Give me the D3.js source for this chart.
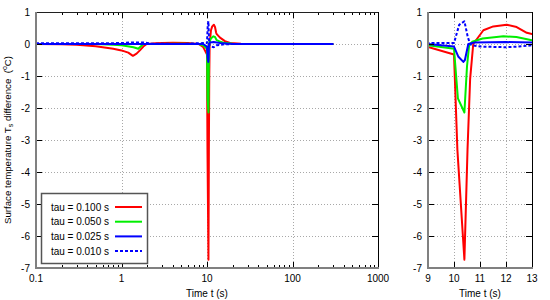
<!DOCTYPE html>
<html><head><meta charset="utf-8">
<script src="https://cdn.jsdelivr.net/npm/d3@7"></script>
<style>
body{margin:0;background:#fff}
text{font-family:"Liberation Sans",Arial,Helvetica,sans-serif;font-size:10px;fill:#000}
</style>
</head><body>
<svg id="chart" width="550" height="300"></svg>
<script>
// ---------- data ----------
const seriesLabels = ["tau = 0.100 s", "tau = 0.050 s", "tau = 0.025 s", "tau = 0.010 s"];

const redT   = [0.1,0.2,0.3,0.5,0.8,1.0,1.2,1.36,1.5,1.64,1.8,1.97,2.5,3,4,6,8,9,10,10.13,10.4,10.52,10.62,10.74,11.13,11.51,12.03,12.41,12.8,13,14.2,16.2,18.6,25,40,100,300];
const redV   = [0,-0.01,-0.02,-0.07,-0.15,-0.2,-0.27,-0.37,-0.3,-0.2,-0.08,0,0.02,0.03,0.04,0.03,0,-0.09,-0.33,-3.3,-6.74,-3.3,-1.1,0,0.43,0.55,0.6,0.53,0.35,0.31,0.2,0.09,0.03,0.01,0,0,0];

const greenT = [0.1,0.5,0.8,1.0,1.38,1.57,1.8,2.5,5,8,9,10,10.15,10.4,10.5,10.58,10.7,11.1,11.9,12.4,13,14,15.5,20,30,300];
const greenV = [0,0,-0.02,-0.04,-0.1,-0.15,0,0,0.01,0,-0.04,-0.15,-1.7,-2.14,-0.7,-0.05,0.07,0.17,0.24,0.22,0.12,0.08,0.04,0.01,0,0];

const blueT  = [0.1,5,9,10,10.17,10.36,10.42,10.55,10.8,12,13,15,20,300];
const blueV  = [0,0,0,-0.08,-0.4,-0.56,-0.5,0,0.05,0.06,0.05,0.02,0,0];

const dashT  = [0.1,0.5,1.0,1.3,1.8,2.2,5,9,10,10.2,10.4,10.53,10.62,10.75,11,12,12.5,13,14,16,20,300];
const dashV  = [0.02,0.02,0.03,0.05,0.05,0.01,0,0.03,0.03,0.6,0.71,0.22,0,-0.05,-0.08,-0.1,-0.08,-0.04,-0.03,-0.01,0,0];

const yTicks      = [1,0,-1,-2,-3,-4,-5,-6,-7];
const xLogTicks   = [0.1,1,10,100,1000];
const xLogLabels  = ["0.1","1","10","100","1000"];
const xZoomTicks  = [9,10,11,12,13];
const xZoomLabels = ["9","10","11","12","13"];
const xLabel = "Time t (s)";

// ---------- styles ----------
const colors = ["#ff0000","#00ee00","#0000ff","#0000ff"];
const dashes = [null,null,null,"3,2"];

const svg = d3.select("#chart");
const series = [[redT,redV],[greenT,greenV],[blueT,blueV],[dashT,dashV]]
  .map((s,i)=>({label:seriesLabels[i], pts:s[0].map((t,j)=>[t,s[1][j]])}));

const yTop = 12, yBot = 268;
const y = d3.scaleLinear().domain([-7,1]).range([yBot, yTop]);

function panel(id, x, majors, labels, minors){
  const g = svg.append("g");
  const [x0,x1] = x.range();
  const defs = svg.append("defs");
  defs.append("clipPath").attr("id","clip"+id).append("rect")
    .attr("x",x0).attr("y",yTop).attr("width",x1-x0).attr("height",yBot-yTop);
  // grid
  const grid = g.append("g").attr("stroke","#a8a8a8").attr("stroke-width",1).attr("stroke-dasharray","1,2");
  yTicks.forEach(v=>{ if(v>-7 && v<1) grid.append("line").attr("x1",x0).attr("x2",x1).attr("y1",Math.round(y(v))+0.5).attr("y2",Math.round(y(v))+0.5); });
  majors.forEach(v=>{ const px=Math.round(x(v))+0.5; if(px>x0+1 && px<x1-1) grid.append("line").attr("x1",px).attr("x2",px).attr("y1",yTop).attr("y2",yBot); });
  // lines
  const line = d3.line().x(d=>x(d[0])).y(d=>y(d[1]));
  const lg = g.append("g").attr("clip-path","url(#clip"+id+")");
  series.forEach((s,i)=>{
    lg.append("path").attr("d",line(s.pts)).attr("fill","none")
      .attr("stroke",colors[i]).attr("stroke-width",2)
      .attr("stroke-linejoin","round")
      .attr("stroke-dasharray",dashes[i]);
  });
  // ticks
  const tk = g.append("g").attr("stroke","#000").attr("stroke-width",1);
  yTicks.forEach(v=>{
    const py=Math.round(y(v))+0.5;
    tk.append("line").attr("x1",x0).attr("x2",x0+6).attr("y1",py).attr("y2",py);
    tk.append("line").attr("x1",x1-6).attr("x2",x1).attr("y1",py).attr("y2",py);
  });
  majors.forEach(v=>{
    const px=Math.round(x(v))+0.5;
    tk.append("line").attr("x1",px).attr("x2",px).attr("y1",yBot).attr("y2",yBot-6);
    tk.append("line").attr("x1",px).attr("x2",px).attr("y1",yTop).attr("y2",yTop+6);
  });
  minors.forEach(v=>{
    const px=Math.round(x(v))+0.5;
    tk.append("line").attr("x1",px).attr("x2",px).attr("y1",yBot).attr("y2",yBot-3);
    tk.append("line").attr("x1",px).attr("x2",px).attr("y1",yTop).attr("y2",yTop+3);
  });
  // border
  g.append("line").attr("x1",x0).attr("x2",x1).attr("y1",yTop+0.5).attr("y2",yTop+0.5).attr("stroke","#202020");
  g.append("line").attr("x1",x1+0.5).attr("x2",x1+0.5).attr("y1",yTop).attr("y2",yBot).attr("stroke","#000");
  g.append("line").attr("x1",x0).attr("x2",x0).attr("y1",yTop).attr("y2",yBot+1).attr("stroke","#808080").attr("stroke-width",2);
  g.append("line").attr("x1",x0-1).attr("x2",x1+1).attr("y1",yBot).attr("y2",yBot).attr("stroke","#808080").attr("stroke-width",2);
  // labels
  yTicks.forEach(v=>{
    g.append("text").attr("x",x0-6).attr("y",y(v)+3.5).attr("text-anchor","end").text(String(v));
  });
  majors.forEach((v,i)=>{
    g.append("text").attr("x",x(v)).attr("y",282).attr("text-anchor","middle").text(labels[i]);
  });
  g.append("text").attr("x",(x0+x1)/2).attr("y",297).attr("text-anchor","middle").text(xLabel);
}

const xLog = d3.scaleLog().domain([0.1,1000]).range([36,378]);
const logMinors = [];
[0.1,1,10,100].forEach(d=>{ for(let k=2;k<=9;k++) logMinors.push(d*k); });
panel("L", xLog, xLogTicks, xLogLabels, logMinors);

const xZoom = d3.scaleLinear().domain([9,13]).range([428,532]);
panel("R", xZoom, xZoomTicks, xZoomLabels, []);

// y-axis label
const yl = svg.append("text").attr("transform","translate(11,140) rotate(-90)").attr("text-anchor","middle").style("font-size","9.7px");
yl.append("tspan").text("Surface temperature T");
yl.append("tspan").attr("dy",2).attr("font-size","7px").text("s");
yl.append("tspan").attr("dy",-2).text(" difference \u00a0(");
yl.append("tspan").attr("dy",-4).attr("font-size","7px").text("o");
yl.append("tspan").attr("dy",4).text("C)");

// legend
const lgd = svg.append("g");
lgd.append("rect").attr("x",41.5).attr("y",193.5).attr("width",106).attr("height",70)
  .attr("fill","#fff").attr("stroke","#555").attr("stroke-width",1.5);
series.forEach((s,i)=>{
  const cy = 207 + i*14.7;
  lgd.append("text").attr("x",109).attr("y",cy+3.5).attr("text-anchor","end").text(s.label);
  lgd.append("line").attr("x1",115).attr("x2",142).attr("y1",cy).attr("y2",cy)
    .attr("stroke",colors[i]).attr("stroke-width",2).attr("stroke-dasharray",dashes[i]);
});
</script>
</body></html>
